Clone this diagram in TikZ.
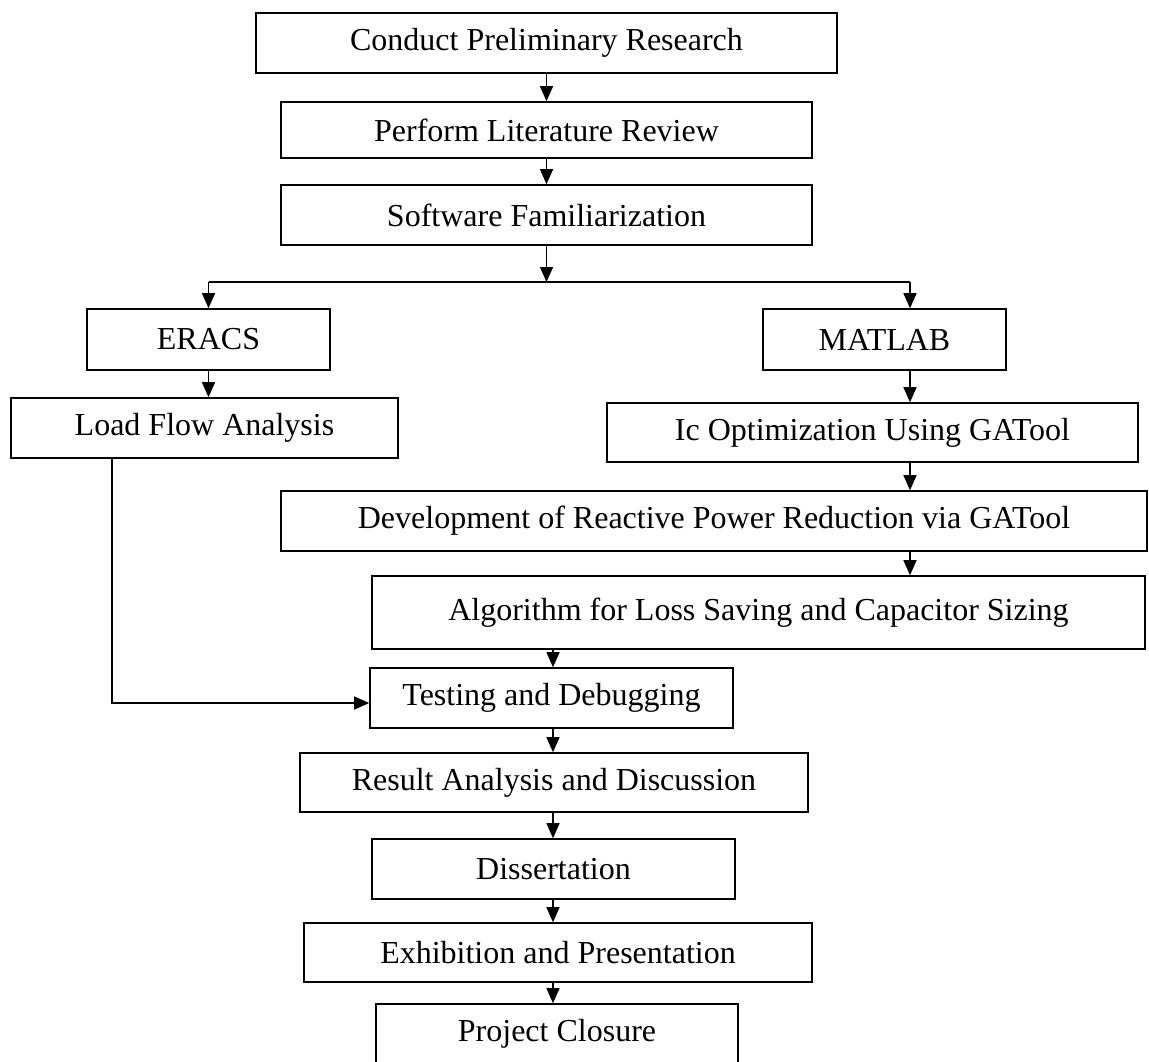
\documentclass[tikz,border=0pt]{standalone}
\usepackage{fontspec}
\setmainfont{Liberation Serif}
\usetikzlibrary{arrows.meta}
\tikzset{
  stage/.style={draw, line width=1.6pt, minimum height=60pt, inner sep=0pt,
    font=\fontsize{32}{38}\selectfont},
  flow/.style={line width=1.4pt, -{Triangle[length=15pt,width=13pt]}},
}
\begin{document}
\begin{tikzpicture}[x=1pt,y=-1pt]
  \clip (0,0) rectangle (1149,1061);
  \fill[white] (0,0) rectangle (1149,1061);
  % preparation
  \node[stage, minimum width=581pt] (research) at (546.5,43) {Conduct Preliminary Research};
  \node[stage, minimum width=531pt, minimum height=56pt] (literature) at (546.5,130) {Perform Literature Review};
  \node[stage, minimum width=531pt] (software) at (546.5,215) {Software Familiarization};
  % two tools
  \node[stage, minimum width=243pt, minimum height=61pt] (eracs) at (208.5,339.5) {ERACS};
  \node[stage, minimum width=243pt, minimum height=61pt] (matlab) at (884.5,339.5) {MATLAB};
  \node[stage, minimum width=387pt] (loadflow) at (204.5,428) {Load Flow Analysis};
  \node[stage, minimum width=531pt, minimum height=59pt] (icopt) at (872.5,432.5) {Ic Optimization Using GATool};
  \node[stage, minimum width=866pt] (devel) at (714,521) {Development of Reactive Power Reduction via GATool};
  \node[stage, minimum width=773pt, minimum height=73pt] (algo) at (758.5,612.5) {Algorithm for Loss Saving and Capacitor Sizing};
  % closing steps
  \node[stage, minimum width=363pt] (testing) at (551.5,698) {Testing and Debugging};
  \node[stage, minimum width=508pt, minimum height=59pt] (result) at (554,782.5) {Result Analysis and Discussion};
  \node[stage, minimum width=363pt] (diss) at (553.5,869) {Dissertation};
  \node[stage, minimum width=508pt, minimum height=59pt] (exhib) at (558,952.5) {Exhibition and Presentation};
  \node[stage, minimum width=362pt] (closure) at (557,1034) {Project Closure};

  \coordinate (split) at (546.5,282);
  \coordinate (rcol) at (910,0);
  \coordinate (lcol) at (553,0);
  \coordinate (fb) at (112,0);

  \draw[flow] (research) -- (literature);
  \draw[flow] (literature) -- (software);
  \draw[flow] (software) -- (split);
  \draw[line width=1.4pt] (split -| eracs) -- (split -| rcol);
  \draw[flow] (split -| eracs) -- (eracs);
  \draw[flow] (split -| rcol) -- (matlab.north -| rcol);
  \draw[flow] (eracs) -- (loadflow.north -| eracs);
  \draw[flow] (matlab.south -| rcol) -- (icopt.north -| rcol);
  \draw[flow] (icopt.south -| rcol) -- (devel.north -| rcol);
  \draw[flow] (devel.south -| rcol) -- (algo.north -| rcol);
  \draw[flow] (algo.south -| lcol) -- (testing.north -| lcol);
  \draw[flow] (loadflow.south -| fb) |- ([yshift=-5pt]testing.west);
  \draw[flow] (testing.south -| lcol) -- (result.north -| lcol);
  \draw[flow] (result.south -| lcol) -- (diss.north -| lcol);
  \draw[flow] (diss.south -| lcol) -- (exhib.north -| lcol);
  \draw[flow] (exhib.south -| lcol) -- (closure.north -| lcol);
\end{tikzpicture}
\end{document}
